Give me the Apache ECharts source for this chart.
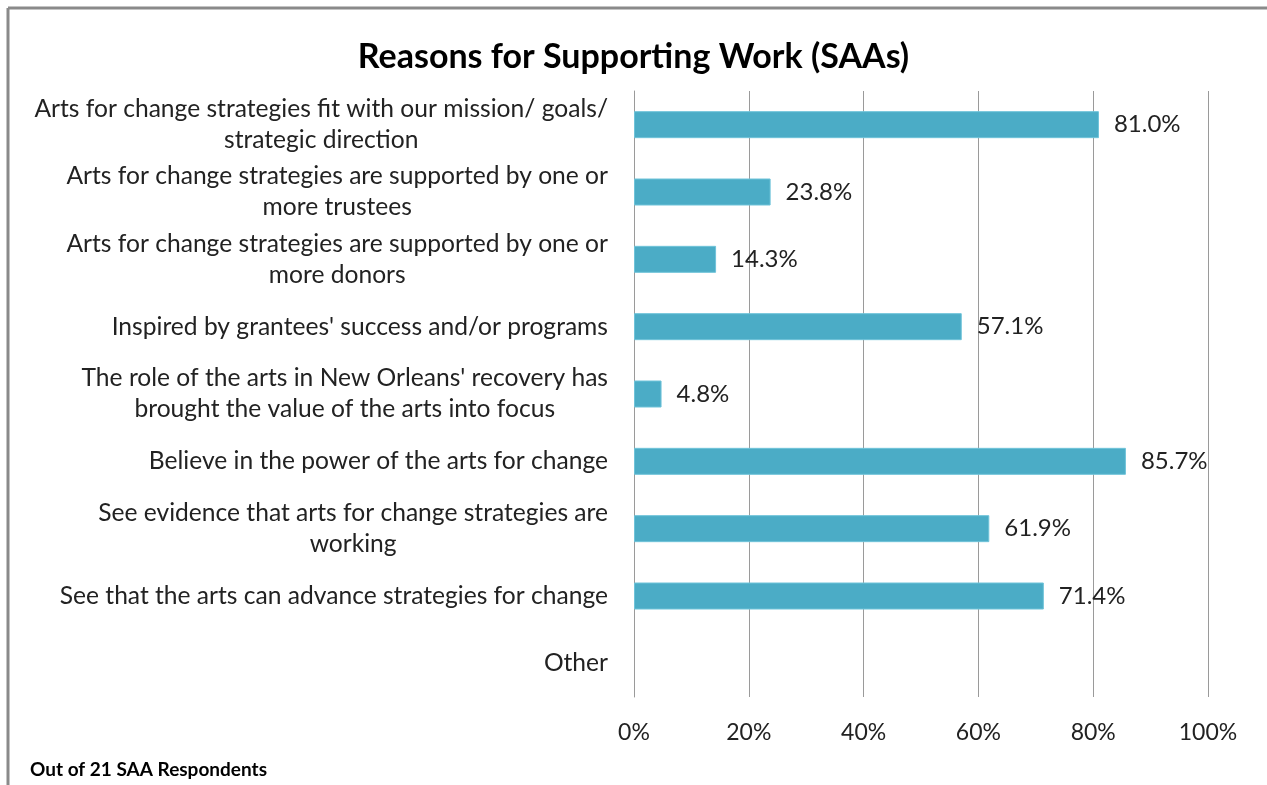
<!DOCTYPE html>
<html>
<head>
<meta charset="utf-8">
<title>Reasons for Supporting Work (SAAs)</title>
<script src="https://cdn.jsdelivr.net/npm/echarts@6/dist/echarts.min.js"></script>
<style>
  html, body { margin: 0; padding: 0; background: #fff; }
  #chart { width: 1267px; height: 785px; }
</style>
</head>
<body>
<div id="chart"></div>
<script>
// Survey reasons (top to bottom) and share of respondents, in percent
const categories = [
  "Arts for change strategies fit with our mission/ goals/\nstrategic direction",
  "Arts for change strategies are supported by one or\nmore trustees",
  "Arts for change strategies are supported by one or\nmore donors",
  "Inspired by grantees' success and/or programs",
  "The role of the arts in New Orleans' recovery has\nbrought the value of the arts into focus",
  "Believe in the power of the arts for change",
  "See evidence that arts for change strategies are\nworking",
  "See that the arts can advance strategies for change",
  "Other"
];
const values = [81.0, 23.8, 14.3, 57.1, 4.8, 85.7, 61.9, 71.4, null];
const xTicks = [0, 20, 40, 60, 80, 100];

const FONT = 'Lato, "Open Sans", sans-serif';
const chart = echarts.init(document.getElementById('chart'), null, { renderer: 'canvas' });

chart.setOption({
  animation: false,
  backgroundColor: '#ffffff',
  textStyle: { fontFamily: FONT },
  title: {
    text: 'Reasons for Supporting Work (SAAs)',
    left: 'center',
    top: 35,
    textStyle: { fontFamily: FONT, fontSize: 34, fontWeight: 'bold', color: '#000' }
  },
  graphic: [
    // chart frame (top and left edges)
    { type: 'line', shape: { x1: 8, y1: 8, x2: 1267, y2: 8 }, style: { stroke: '#8a8a8a', lineWidth: 3 } },
    { type: 'line', shape: { x1: 8, y1: 8, x2: 8, y2: 785 }, style: { stroke: '#8a8a8a', lineWidth: 3 } },
    {
      type: 'text', left: 30, top: 760,
      style: { text: 'Out of 21 SAA Respondents', font: 'bold 19px ' + FONT, fill: '#000' }
    }
  ],
  grid: { left: 634, right: 59, top: 91, bottom: 88, containLabel: false },
  xAxis: {
    type: 'value',
    min: xTicks[0],
    max: xTicks[xTicks.length - 1],
    interval: xTicks[1] - xTicks[0],
    axisLine: { show: false },
    axisTick: { show: false },
    splitLine: { show: true, lineStyle: { color: '#9a9a9a', width: 1 } },
    axisLabel: {
      margin: 24,
      fontSize: 23,
      color: '#222',
      fontFamily: FONT,
      formatter: v => v + '%'
    }
  },
  yAxis: {
    type: 'category',
    inverse: true,
    data: categories,
    axisLine: { show: true, lineStyle: { color: '#9a9a9a', width: 1 } },
    axisTick: { show: false },
    axisLabel: {
      margin: 26,
      align: 'right',
      color: '#222',
      fontFamily: FONT,
      fontSize: 24.6,
      lineHeight: 31,
      formatter: v => v.split('\n').map(s => '{c|' + s + '}').join('\n'),
      rich: {
        c: { align: 'center', fontSize: 24.6, lineHeight: 31, color: '#222', fontFamily: FONT }
      }
    }
  },
  series: [{
    type: 'bar',
    data: values,
    barWidth: 27,
    itemStyle: { color: '#4bacc6', borderColor: '#6fc3d9', borderWidth: 1 },
    label: {
      show: true,
      position: 'right',
      distance: 15,
      fontSize: 24,
      color: '#222',
      fontFamily: FONT,
      formatter: p => (p.value == null ? '' : p.value.toFixed(1) + '%')
    }
  }]
});
</script>
</body>
</html>
